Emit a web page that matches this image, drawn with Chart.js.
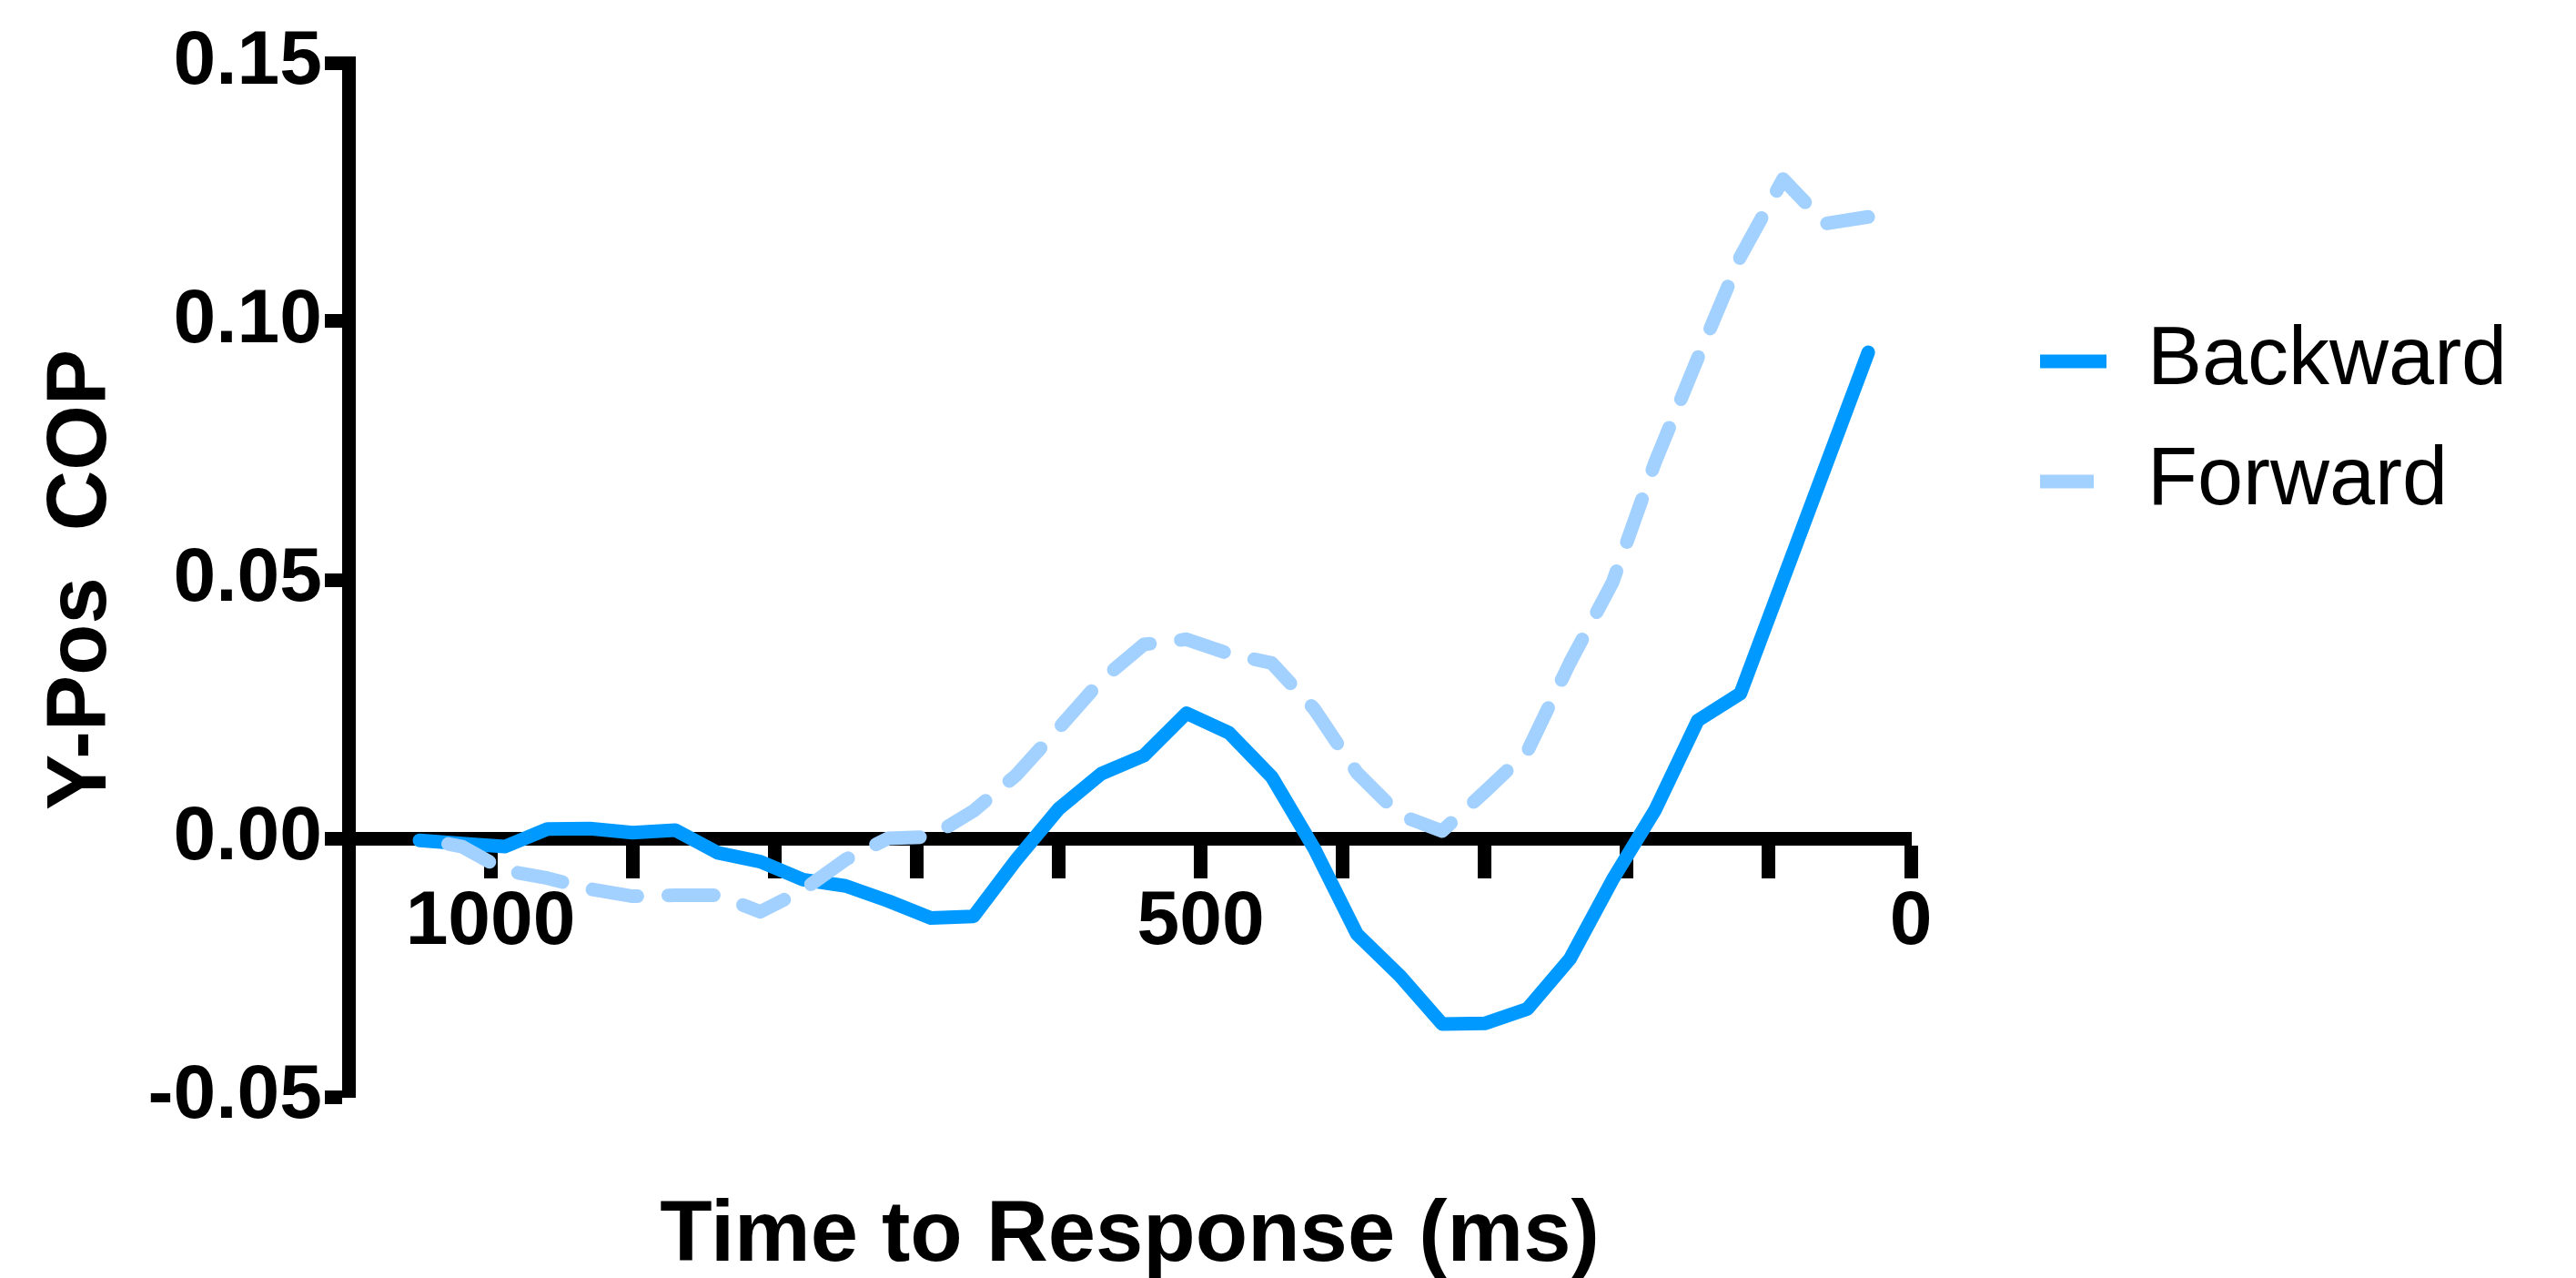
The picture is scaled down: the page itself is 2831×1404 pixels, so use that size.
<!DOCTYPE html>
<html>
<head>
<meta charset="utf-8">
<title>Y-Pos COP</title>
<script src="https://cdn.jsdelivr.net/npm/chart.js@4/dist/chart.umd.min.js"></script>
<style>
  html, body { margin: 0; padding: 0; background: #fff; }
  canvas { display: block; }
</style>
</head>
<body>
<canvas id="copChart" width="2831" height="1404"></canvas>
<script>
// time before response (ms), one sample every 30 ms
const timesMs = [1050, 1020, 990, 960, 930, 900, 870, 840, 810, 780, 750, 720,
  690, 660, 630, 600, 570, 540, 510, 480, 450, 420, 390, 360,
  330, 300, 270, 240, 210, 180, 150, 120, 90, 60, 30];

const backwardValues = [-0.0004, -0.0010, -0.0016, 0.0018, 0.0019, 0.0011, 0.0016, -0.0028, -0.0045, -0.0080, -0.0092, -0.0121,
  -0.0154, -0.0151, -0.0042, 0.0057, 0.0125, 0.0160, 0.0242, 0.0204, 0.0119, -0.0020, -0.0185, -0.0265,
  -0.0359, -0.0358, -0.0330, -0.0233, -0.0080, 0.0055, 0.0228, 0.0280, 0.0500, 0.0720, 0.0940];

const forwardValues = [0.0000, -0.0016, -0.0062, -0.0077, -0.0098, -0.0112, -0.0110, -0.0110, -0.0142, -0.0100, -0.0041, 0.0000,
  0.0003, 0.0053, 0.0122, 0.0213, 0.0306, 0.0375, 0.0385, 0.0357, 0.0339, 0.0250, 0.0127, 0.0045,
  0.0014, 0.0090, 0.0168, 0.0340, 0.0495, 0.0728, 0.0929, 0.1125, 0.1275, 0.1189, 0.1202];

const seriesNames = ['Backward', 'Forward'];
const xLabeledTicks = [1000, 500, 0];
const xRange = [0, 1100];
const yRange = [-0.05, 0.15];

const FONT = '"Liberation Sans", Arial, sans-serif';
Chart.defaults.font.family = FONT;
Chart.defaults.color = '#000';

// legend on the right, drawn next to the plot
const sideLegend = {
  id: 'sideLegend',
  afterDraw(chart) {
    const { ctx, chartArea } = chart;
    ctx.save();
    ctx.font = '90px ' + FONT;
    ctx.textBaseline = 'middle';
    ctx.fillStyle = '#000';
    chart.data.datasets.forEach((ds, i) => {
      const x = chartArea.right + 142;
      const y = chartArea.top + 328 + i * 132;
      ctx.strokeStyle = ds.borderColor;
      ctx.lineWidth = ds.borderWidth;
      ctx.lineCap = 'butt';
      ctx.beginPath();
      ctx.moveTo(x, y);
      ctx.lineTo(x + (ds.borderDash ? 59 : 73), y);
      ctx.stroke();
      ctx.fillText(ds.label, x + 118, y);
    });
    ctx.restore();
  }
};

const toPoints = vals => vals.map((v, i) => ({ x: timesMs[i], y: v }));

new Chart(document.getElementById('copChart'), {
  type: 'line',
  data: {
    datasets: [{
      label: seriesNames[0],
      data: toPoints(backwardValues),
      borderColor: '#0099FF',
      borderWidth: 15,
      borderCapStyle: 'round',
      borderJoinStyle: 'round',
      pointRadius: 0,
      tension: 0,
      order: 1
    }, {
      label: seriesNames[1],
      data: toPoints(forwardValues),
      borderColor: '#A3D1FF',
      borderWidth: 15,
      borderDash: [50, 34],
      borderDashOffset: 52,
      borderCapStyle: 'round',
      borderJoinStyle: 'round',
      pointRadius: 0,
      tension: 0,
      order: 0
    }]
  },
  options: {
    responsive: false,
    animation: false,
    devicePixelRatio: 1,
    layout: { padding: { left: 0, top: 69, right: 731, bottom: 199 } },
    plugins: {
      legend: { display: false },
      tooltip: { enabled: false }
    },
    scales: {
      x: {
        type: 'linear',
        reverse: true,
        min: xRange[0],
        max: xRange[1],
        position: { y: 0 },
        border: { display: true, color: '#000', width: 15 },
        grid: { drawOnChartArea: false, drawTicks: true, tickLength: 36, tickWidth: 15, tickColor: '#000' },
        ticks: {
          stepSize: 100,
          autoSkip: false,
          maxRotation: 0,
          padding: 6,
          font: { size: 84, weight: 'bold' },
          callback: v => xLabeledTicks.includes(v) ? String(v) : ''
        },
        title: {
          display: true,
          text: 'Time to Response (ms)',
          font: { size: 94, weight: 'bold' },
          padding: { top: 0, bottom: 0 }
        },
        afterFit: scale => { scale.height = 494; }
      },
      y: {
        min: yRange[0],
        max: yRange[1],
        border: { display: true, color: '#000', width: 15 },
        grid: { drawOnChartArea: false, drawTicks: true, tickLength: 26, tickWidth: 15, tickColor: '#000' },
        ticks: {
          stepSize: 0.05,
          padding: 3,
          font: { size: 84, weight: 'bold' },
          callback: v => v.toFixed(2)
        },
        title: {
          display: true,
          text: 'Y-Pos  COP',
          font: { size: 92, weight: 'bold' },
          padding: { top: 35, bottom: 0 }
        },
        afterFit: scale => { scale.width = 383; }
      }
    }
  },
  plugins: [sideLegend]
});
</script>
</body>
</html>
